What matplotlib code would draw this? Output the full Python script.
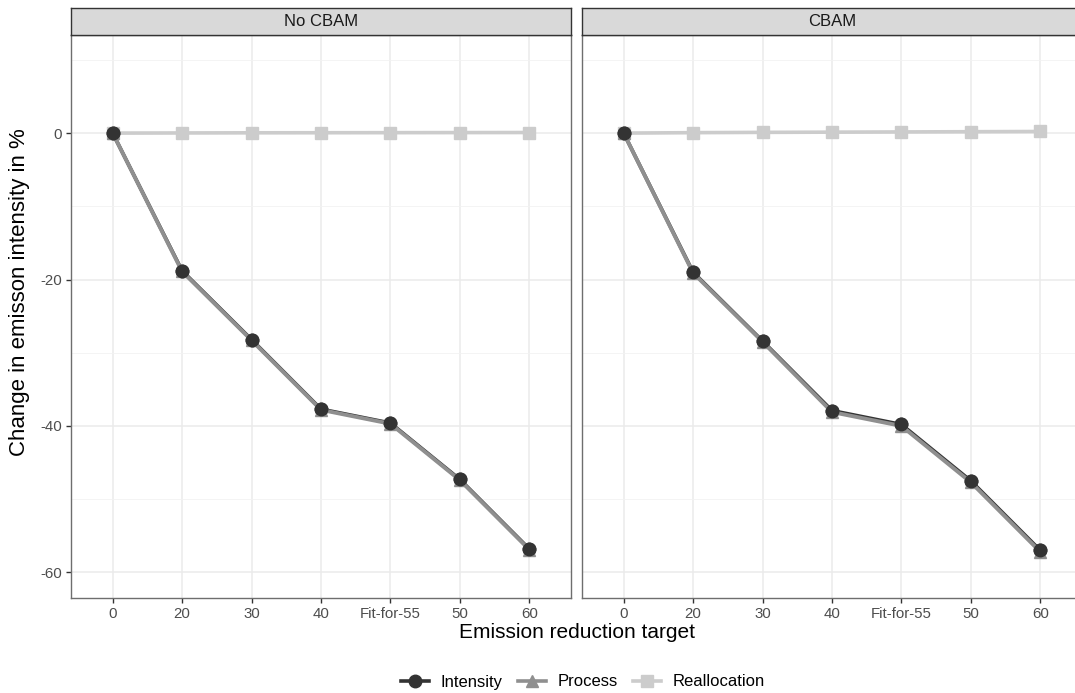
import matplotlib.pyplot as plt
import numpy as np

plt.rcParams['font.family'] = ['Liberation Sans', 'DejaVu Sans']

# categories on the x axis
targets = ["0", "20", "30", "40", "Fit-for-55", "50", "60"]
panels = ["No CBAM", "CBAM"]

# change in emission intensity (%)
intensity_nocbam = [0, -18.8, -28.2, -37.7, -39.6, -47.3, -56.8]
process_nocbam = [0, -18.9, -28.3, -37.8, -39.7, -47.4, -56.9]
realloc_nocbam = [0, 0.02, 0.04, 0.05, 0.06, 0.07, 0.08]

intensity_cbam = [0, -19.0, -28.4, -37.9, -39.8, -47.5, -57.0]
process_cbam = [0, -19.1, -28.5, -38.1, -40.0, -47.7, -57.2]
realloc_cbam = [0, 0.06, 0.1, 0.13, 0.16, 0.19, 0.22]

series = {
    "No CBAM": (intensity_nocbam, process_nocbam, realloc_nocbam),
    "CBAM": (intensity_cbam, process_cbam, realloc_cbam),
}

c_int, c_proc, c_real = "#333333", "#8f8f8f", "#cccccc"

fig = plt.figure(figsize=(10.75, 6.93), dpi=100)
W, H = 1075, 693
bottom, top = 1 - 598 / H, 1 - 35 / H
strip_h = 27 / H
x_pos = np.arange(1, len(targets) + 1)
ms = 9

# right panel runs off the edge of the image, as in the original
for i, (name, left, right) in enumerate([("No CBAM", 71, 571), ("CBAM", 582, 1082)]):
    ax = fig.add_axes([left / W, bottom, (right - left) / W, top - bottom])
    inten, proc, real = series[name]
    ax.plot(x_pos, real, color=c_real, lw=2.6, marker="s", ms=ms, zorder=3)
    ax.plot(x_pos, inten, color=c_int, lw=2.6, marker="o", ms=ms, zorder=3)
    ax.plot(x_pos, proc, color=c_proc, lw=2.8, marker="^", ms=ms, zorder=3)
    ax.plot(x_pos, inten, color=c_int, lw=0, marker="o", ms=ms, zorder=4)

    ax.set_xlim(0.4, len(targets) + 0.6)
    ax.set_ylim(-63.5, 13.4)
    ax.set_xticks(x_pos)
    ax.set_xticklabels(targets)
    ax.set_yticks([-60, -40, -20, 0])
    ax.set_yticks([-50, -30, -10, 10], minor=True)
    ax.grid(True, which="major", color="#ebebeb", lw=1.1, zorder=0)
    ax.grid(True, which="minor", axis="y", color="#f2f2f2", lw=0.6, zorder=0)
    ax.set_axisbelow(True)
    for s in ax.spines.values():
        s.set_color("#6e6e6e")
        s.set_linewidth(1.0)
    ax.tick_params(axis="both", which="major", length=3.5, width=1.0, color="#333333",
                   labelsize=10.8, labelcolor="#4d4d4d", pad=3)
    ax.tick_params(axis="y", which="minor", length=0)
    if i == 1:
        ax.tick_params(axis="y", which="both", left=False, labelleft=False)
    else:
        ax.set_yticklabels(["-60", "-40", "-20", "0"])

    # facet strip
    sax = fig.add_axes([left / W, top, (right - left) / W, strip_h])
    sax.set_xticks([])
    sax.set_yticks([])
    sax.set_facecolor("#d9d9d9")
    for s in sax.spines.values():
        s.set_color("#333333")
        s.set_linewidth(1.0)
    sax.text(0.5, 0.5, name, ha="center", va="center", fontsize=12, color="#1a1a1a",
             transform=sax.transAxes)

fig.text(577 / W, 1 - 632 / H, "Emission reduction target", ha="center", va="center", fontsize=15)
fig.text(20 / W, 1 - 292 / H, "Change in emisson intensity in %", ha="center", va="center",
         rotation=90, fontsize=16)

handles = [
    plt.Line2D([], [], color=c_int, lw=2.6, marker="o", ms=ms),
    plt.Line2D([], [], color=c_proc, lw=2.6, marker="^", ms=ms),
    plt.Line2D([], [], color=c_real, lw=2.6, marker="s", ms=ms),
]
fig.legend(handles, ["Intensity", "Process", "Reallocation"], loc="center",
           bbox_to_anchor=(583 / W, 1 - 682 / H), ncol=3, frameon=False, fontsize=12,
           handlelength=1.7, columnspacing=0.9, handletextpad=0.7)

fig.savefig("out.png", dpi=100)
